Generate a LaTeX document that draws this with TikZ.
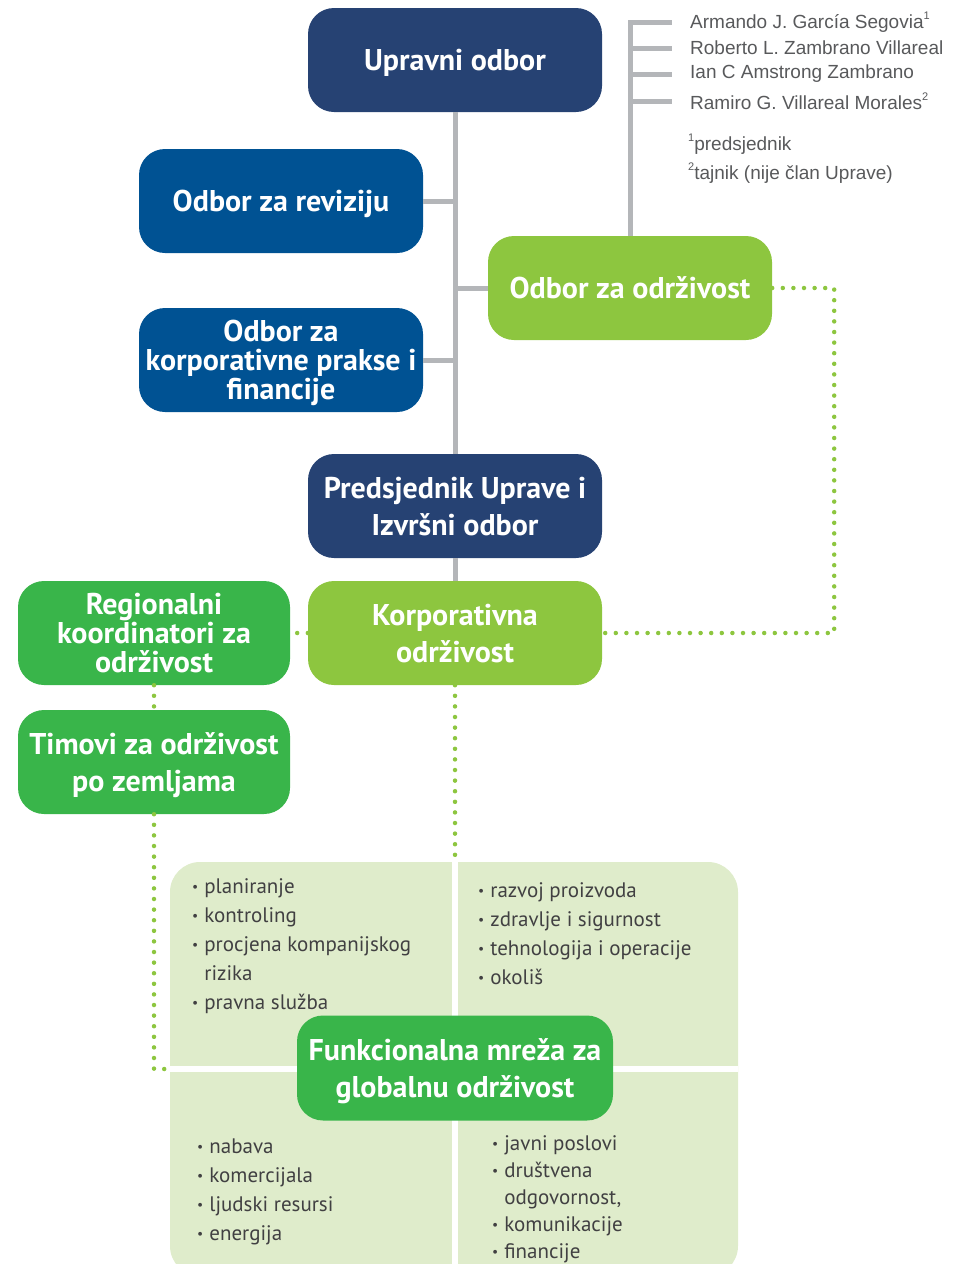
\documentclass[tikz,border=0pt]{standalone}
\usepackage{fontspec}
\usepackage{xcolor}
\usepackage{tikz}
\usetikzlibrary{calc,positioning}
\setmainfont{Liberation Sans}
\newfontfamily\boxfont{PT Sans}
\newfontfamily\listfont{PT Sans}
\newcommand{\dotmark}{\raisebox{0.1em}{\scalebox{0.65}{\textbullet}}}
\newcommand{\supnum}[1]{\raisebox{0.45em}{\fontsize{11}{11}\selectfont #1}}

\begin{document}
\begin{tikzpicture}[x=1pt, y=-1pt,
    box/.style={rounded corners=26pt, minimum width=294pt, minimum height=104pt,
      inner sep=0pt, align=center, text=white, text depth=0pt,
      font=\boxfont\bfseries\fontsize{30}{37}\selectfont},
    smallbox/.style={box, minimum width=284pt},
    tightbox/.style={font=\boxfont\bfseries\fontsize{30}{29}\selectfont},
    grayline/.style={draw=linegray, line width=5pt},
    dotline/.style={draw=lightgreen, line width=4.5pt, line cap=round,
      dash pattern=on 0pt off 10.6pt},
    member/.style={anchor=west, inner sep=0pt, text=namegray,
      font=\fontsize{19}{21}\selectfont},
    itemlist/.style={anchor=north west, inner sep=0pt, text=listgray}]

  % Define colors
  \definecolor{navy}{RGB}{38,66,115}
  \definecolor{boardblue}{RGB}{0,82,147}
  \definecolor{lightgreen}{RGB}{141,198,63}
  \definecolor{darkgreen}{RGB}{57,181,74}
  \definecolor{palegreen}{RGB}{223,236,203}
  \definecolor{linegray}{RGB}{180,182,185}
  \definecolor{namegray}{RGB}{88,89,91}
  \definecolor{listgray}{RGB}{65,64,66}

  \useasboundingbox (0,0) rectangle (965,1264);

  % Board and committees
  \node[box, fill=navy] (upravni) at (455,60) {Upravni odbor};
  \node[smallbox, fill=boardblue] (revizija) at (281,201) {Odbor za reviziju};
  \node[smallbox, tightbox, fill=boardblue] (prakse) at (281,360)
    {Odbor za\\korporativne prakse i\\financije};
  \node[smallbox, fill=lightgreen] (odrzivost) at (630,288) {Odbor za održivost};
  \node[box, fill=navy] (predsjednik) at (455,506)
    {Predsjednik Uprave i\\Izvršni odbor};
  \node[box, fill=lightgreen] (korporativna) at (455,633)
    {Korporativna\\održivost};
  \node[smallbox, tightbox, minimum width=272pt, fill=darkgreen] (regionalni) at (154,633)
    {Regionalni\\koordinatori za\\održivost};
  \node[smallbox, minimum width=272pt, fill=darkgreen] (timovi) at (154,762)
    {Timovi za održivost\\po zemljama};

  % Gray structure lines
  \draw[grayline] (upravni.south) -- (predsjednik.north);
  \draw[grayline] (predsjednik.south) -- (korporativna.north);
  \draw[grayline] (revizija.east) -- (revizija.east -| upravni.south);
  \draw[grayline] (prakse.east) -- (prakse.east -| upravni.south);
  \draw[grayline] (odrzivost.west) -- (odrzivost.west -| upravni.south);

  % Members of the sustainability committee
  \node[member] (m1) at (690,22) {Armando J. García Segovia\supnum{1}};
  \node[member] (m2) at (690,48) {Roberto L. Zambrano Villareal};
  \node[member] (m3) at (690,74) {Ian C Amstrong Zambrano};
  \node[member] (m4) at (690,101) {Ramiro G. Villareal Morales\supnum{2}};
  \node[member] (f1) at (688,144) {\supnum{1}predsjednik};
  \node[member] (f2) at (688,173) {\supnum{2}tajnik (nije član Uprave)};
  \draw[grayline, shorten >=18pt] (odrzivost.north) |- (m1.west);
  \foreach \m in {m2,m3,m4}
    \draw[grayline, shorten >=18pt] (\m.west -| odrzivost.north) -- (\m.west);

  % Functional network quadrants
  \node[rounded corners=30pt, fill=palegreen, minimum width=568pt,
    minimum height=414pt, inner sep=0pt] (quad) at (454,1069) {};
  \draw[white, line width=6pt] (quad.north -| korporativna.south) -- (quad.south -| korporativna.south);
  \draw[white, line width=6pt] (quad.west) -- (quad.east);
  \node[box, minimum width=316pt, minimum height=105pt, fill=darkgreen] (mreza) at (455,1068)
    {Funkcionalna mreža za\\globalnu održivost};

  % Dotted green links
  \draw[dotline] (odrzivost.east) -- ++(62,0) |- (korporativna.east);
  \draw[dotline] (korporativna.west) -- (regionalni.east);
  \draw[dotline] (regionalni.south) -- (timovi.north);
  \draw[dotline] (timovi.south) |- (quad.west);
  \draw[dotline] (korporativna.south) -- (korporativna.south |- quad.north);

  % Lists of functions
  \node[itemlist] (q1) at (192,873) {\listfont\fontsize{21}{29}\selectfont
    \begin{tabular}{@{}l@{\hspace{6pt}}l@{}}
      \dotmark & planiranje\\
      \dotmark & kontroling\\
      \dotmark & procjena kompanijskog\\
               & rizika\\
      \dotmark & pravna služba
    \end{tabular}};
  \node[itemlist] (q2) at (478,877) {\listfont\fontsize{21}{29}\selectfont
    \begin{tabular}{@{}l@{\hspace{6pt}}l@{}}
      \dotmark & razvoj proizvoda\\
      \dotmark & zdravlje i sigurnost\\
      \dotmark & tehnologija i operacije\\
      \dotmark & okoliš
    \end{tabular}};
  \node[itemlist] (q3) at (197,1133) {\listfont\fontsize{21}{29}\selectfont
    \begin{tabular}{@{}l@{\hspace{6pt}}l@{}}
      \dotmark & nabava\\
      \dotmark & komercijala\\
      \dotmark & ljudski resursi\\
      \dotmark & energija
    \end{tabular}};
  \node[itemlist] (q4) at (492,1131) {\listfont\fontsize{21}{27}\selectfont
    \begin{tabular}{@{}l@{\hspace{6pt}}l@{}}
      \dotmark & javni poslovi\\
      \dotmark & društvena\\
               & odgovornost,\\
      \dotmark & komunikacije\\
      \dotmark & financije
    \end{tabular}};

\end{tikzpicture}
\end{document}
